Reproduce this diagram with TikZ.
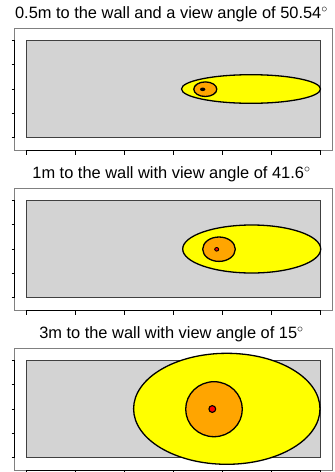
\documentclass[tikz,border=0pt]{standalone}
\usepackage{fontspec}
\setmainfont{Liberation Sans}
\definecolor{wallgray}{HTML}{D3D3D3}
\definecolor{coneyellow}{HTML}{FFFF00}
\definecolor{coreorange}{HTML}{FFA500}
\definecolor{spotred}{HTML}{FF0000}

\begin{document}
\begin{tikzpicture}[
    x=1pt, y=-1pt,
    frame/.style={draw=black!50, fill=white, line width=0.8pt},
    wall/.style={draw=black!75, fill=wallgray, line width=0.8pt},
    cone/.style={draw=black, fill=coneyellow, line width=1.3pt},
    core/.style={draw=black, fill=coreorange, line width=1.3pt},
    spot/.style={draw=black, fill=spotred, line width=1.1pt},
    axis/.style={draw=black, line width=0.8pt},
    ttl/.style={anchor=base, inner sep=0pt, font=\fontsize{16.4}{19}\selectfont},
]
\useasboundingbox (0,0) rectangle (335,472);

% Common parts of the three panels (frame, wall, axes, title).
\foreach \k/\ttl in {0/{0.5m to the wall and a view angle of 50.54$^\circ$},
                     1/{1m to the wall with view angle of 41.6$^\circ$},
                     2/{3m to the wall with view angle of 15$^\circ$}} {
  \begin{scope}[yshift={-160pt*\k}]
    \draw[frame] (14.7,28) rectangle (332,150);
    \draw[wall] (26.7,40.3) rectangle (320,137.7);
    \draw[axis] (14.7,40.3) -- (14.7,137.7);
    \draw[axis] (26.7,150) -- (320,150);
    \foreach \ty in {0,...,4}
      \draw[axis] (11.5,{40.3+24.35*\ty}) -- (14.7,{40.3+24.35*\ty});
    \foreach \tx in {0,...,6}
      \draw[axis] ({26.7+48.9*\tx},150) -- ({26.7+48.9*\tx},154.5);
    \node[ttl] (title\k) at (171.5,18.3) {\ttl};
  \end{scope}
}

% Panel 1: 0.5m.
\draw[cone] (251,89) ellipse [x radius=69.5, y radius=14.3];
\draw[core] (205.3,89.2) ellipse [x radius=11.5, y radius=7.3];
\fill[black] (202.7,89.3) ellipse [x radius=2.7, y radius=1.8];

% Panel 2: 1m.
\begin{scope}[yshift=-160pt]
  \draw[cone] (251.7,89) ellipse [x radius=69, y radius=24];
  \draw[core] (219,89.2) ellipse [x radius=16.3, y radius=12.2];
  \draw[spot, line width=0.9pt] (216.7,89.3) ellipse [x radius=2, y radius=1.8];
\end{scope}

% Panel 3: 3m.
\begin{scope}[yshift=-320pt]
  \draw[cone] (226.8,88.8) ellipse [x radius=93.2, y radius=55.5];
  \draw[core] (214,89.2) ellipse [x radius=28.3, y radius=27.5];
  \draw[spot] (212.3,89) circle [radius=3.4];
\end{scope}
\end{tikzpicture}
\end{document}
